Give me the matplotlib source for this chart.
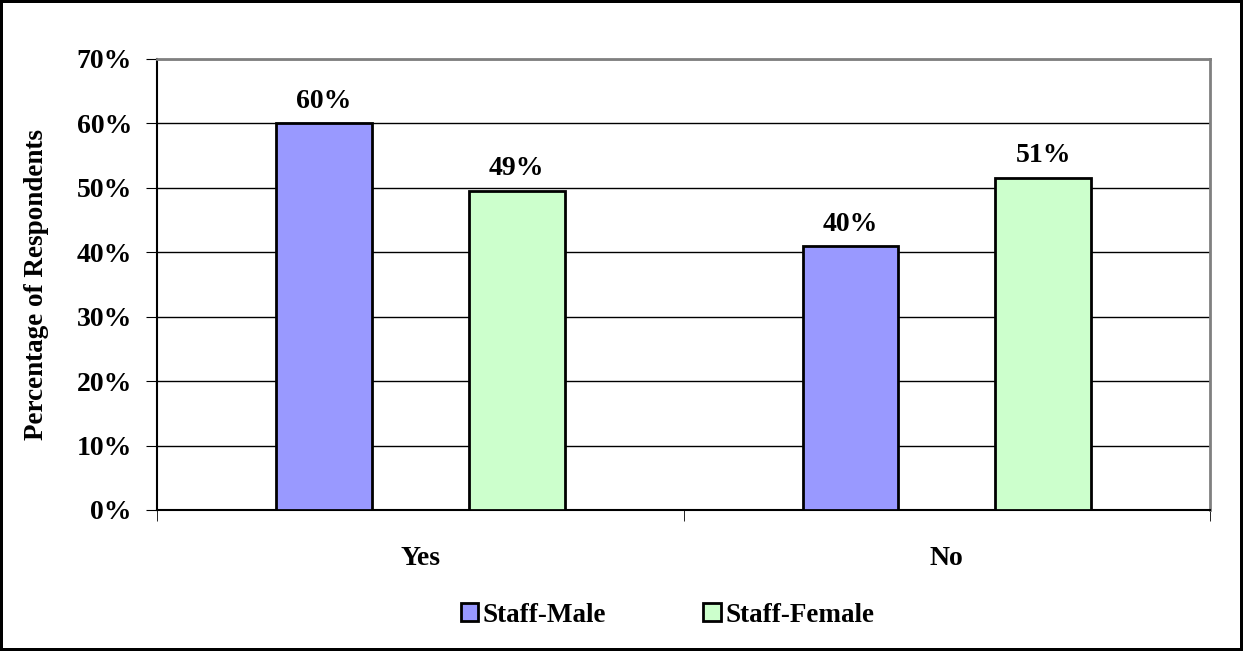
import numpy as np
import matplotlib.pyplot as plt

categories = ['Yes', 'No']
series = ['Staff-Male', 'Staff-Female']
male = [60.0, 40.9]
female = [49.5, 51.6]
labels_male = ['60%', '40%']
labels_female = ['49%', '51%']
colors = ['#9999FF', '#CCFFCC']

plt.rcParams['font.family'] = ['Liberation Serif', 'DejaVu Serif']
plt.rcParams['font.weight'] = 'bold'

fig = plt.figure(figsize=(12.43, 6.51), dpi=100)
fig.patch.set_edgecolor('black')
fig.patch.set_linewidth(3)
ax = fig.add_axes([0.1263, 0.2166, 0.8472, 0.6928])

x = np.arange(len(categories))
w = 0.182
off = 0.183
b1 = ax.bar(x - off, male, w, color=colors[0], edgecolor='black', linewidth=2, label=series[0], zorder=3)
b2 = ax.bar(x + off, female, w, color=colors[1], edgecolor='black', linewidth=2, label=series[1], zorder=3)

for bars, labs in ((b1, labels_male), (b2, labels_female)):
    for r, t in zip(bars, labs):
        ax.text(r.get_x() + r.get_width() / 2, r.get_height() + 1.5, t, ha='center', va='bottom',
                fontsize=20, fontweight='bold', zorder=4,
                bbox=dict(facecolor='white', edgecolor='none', pad=1))

ax.set_xlim(-0.5, 1.5)
ax.set_ylim(0, 70)
ax.set_yticks(np.arange(0, 71, 10))
ax.set_yticklabels([f'{v}%' for v in range(0, 71, 10)], fontsize=20, fontweight='bold')
ax.set_xticks(x)
ax.set_xticklabels(categories, fontsize=20, fontweight='bold')
ax.set_xticks([-0.5, 0.5, 1.5], minor=True)
ax.tick_params(axis='x', which='major', length=0, pad=26)
ax.tick_params(axis='x', which='minor', length=8, direction='out', color='black')
ax.tick_params(axis='y', length=8, direction='out', pad=10, color='black')
ax.grid(True, axis='y', color='black', linewidth=1, zorder=0)
ax.set_axisbelow(True)
for s in ['top', 'right']:
    ax.spines[s].set_color('#808080')
    ax.spines[s].set_linewidth(2)
for s in ['left', 'bottom']:
    ax.spines[s].set_color('black')
    ax.spines[s].set_linewidth(1.5)

ax.set_ylabel('Percentage of Respondents', fontsize=19.5, fontweight='bold', labelpad=20)

fig.legend(handles=[b1, b2], labels=series, loc='center', bbox_to_anchor=(0.537, 0.055), ncol=2,
           frameon=False, handlelength=0.65, handleheight=0.65, handletextpad=0.15,
           columnspacing=3.6, prop={'weight': 'bold', 'size': 19.5})

fig.savefig('out.png', dpi=100)
